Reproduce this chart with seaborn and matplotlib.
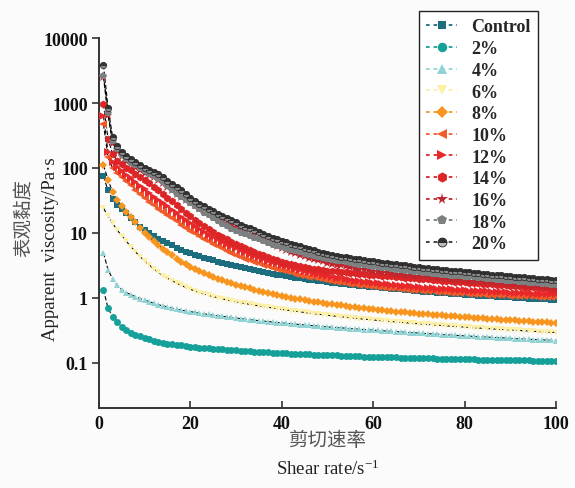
import numpy as np
import pandas as pd
import matplotlib
matplotlib.use("Agg")
import matplotlib.pyplot as plt
import seaborn as sns
from matplotlib.lines import Line2D
from matplotlib.ticker import FixedLocator, NullLocator

# ---------------- data ----------------
shear_rate = list(range(1, 101))

series_labels = ["Control", "2%", "4%", "6%", "8%", "10%", "12%", "14%", "16%", "18%", "20%"]

control = [74, 45, 33, 27, 23, 20, 17, 14.5, 12.5, 11,
           9.8, 8.9, 8.1, 7.5, 6.9, 6.4, 5.9, 5.4, 5.1, 4.82,
           4.56, 4.33, 4.12, 3.93, 3.75, 3.59, 3.44, 3.3, 3.17, 3.05,
           2.94, 2.84, 2.74, 2.65, 2.57, 2.49, 2.41, 2.34, 2.27, 2.21,
           2.15, 2.09, 2.04, 1.99, 1.94, 1.9, 1.86, 1.82, 1.78, 1.74,
           1.71, 1.68, 1.65, 1.62, 1.59, 1.56, 1.53, 1.51, 1.48, 1.46,
           1.44, 1.42, 1.4, 1.38, 1.36, 1.34, 1.32, 1.3, 1.28, 1.26,
           1.24, 1.23, 1.21, 1.2, 1.18, 1.17, 1.15, 1.14, 1.13, 1.12,
           1.11, 1.09, 1.08, 1.07, 1.06, 1.05, 1.04, 1.03, 1.02, 1.01,
           1.0, 0.99, 0.98, 0.97, 0.96, 0.95, 0.94, 0.94, 0.93, 0.92]

pct2 = [1.33, 0.69, 0.51, 0.42, 0.36, 0.32, 0.29, 0.27, 0.255, 0.24,
        0.228, 0.218, 0.21, 0.203, 0.197, 0.192, 0.188, 0.184, 0.18, 0.177,
        0.174, 0.171, 0.168, 0.166, 0.164, 0.162, 0.16, 0.158, 0.156, 0.154,
        0.152, 0.151, 0.149, 0.148, 0.146, 0.145, 0.144, 0.142, 0.141, 0.14,
        0.139, 0.138, 0.137, 0.136, 0.135, 0.134, 0.133, 0.132, 0.131, 0.13,
        0.129, 0.129, 0.128, 0.127, 0.126, 0.126, 0.125, 0.124, 0.124, 0.123,
        0.122, 0.122, 0.121, 0.121, 0.12, 0.119, 0.119, 0.118, 0.118, 0.117,
        0.117, 0.116, 0.116, 0.115, 0.115, 0.114, 0.114, 0.113, 0.113, 0.113,
        0.112, 0.112, 0.111, 0.111, 0.111, 0.11, 0.11, 0.11, 0.109, 0.109,
        0.109, 0.108, 0.108, 0.108, 0.107, 0.107, 0.107, 0.106, 0.106, 0.106]

pct4 = [4.9, 2.7, 1.95, 1.55, 1.33, 1.2, 1.11, 1.04, 0.97, 0.92,
        0.87, 0.82, 0.78, 0.75, 0.72, 0.69, 0.665, 0.645, 0.625, 0.61,
        0.595, 0.58, 0.565, 0.552, 0.54, 0.528, 0.517, 0.506, 0.496, 0.486,
        0.477, 0.468, 0.459, 0.451, 0.443, 0.436, 0.429, 0.422, 0.415, 0.409,
        0.403, 0.397, 0.391, 0.385, 0.38, 0.375, 0.37, 0.365, 0.36, 0.355,
        0.351, 0.347, 0.343, 0.339, 0.335, 0.331, 0.327, 0.323, 0.32, 0.316,
        0.313, 0.309, 0.306, 0.303, 0.3, 0.297, 0.294, 0.291, 0.288, 0.285,
        0.282, 0.279, 0.276, 0.274, 0.271, 0.268, 0.266, 0.263, 0.261, 0.258,
        0.256, 0.254, 0.251, 0.249, 0.247, 0.245, 0.243, 0.241, 0.239, 0.237,
        0.235, 0.233, 0.231, 0.229, 0.227, 0.225, 0.224, 0.222, 0.22, 0.219]

pct6 = [24, 18, 14, 11, 9, 7.4, 6.1, 5.1, 4.3, 3.7,
        3.2, 2.8, 2.45, 2.2, 2.0, 1.83, 1.68, 1.55, 1.44, 1.35,
        1.27, 1.2, 1.14, 1.09, 1.04, 1.0, 0.96, 0.925, 0.895, 0.865,
        0.84, 0.815, 0.79, 0.77, 0.75, 0.73, 0.712, 0.695, 0.678, 0.662,
        0.647, 0.633, 0.619, 0.606, 0.593, 0.581, 0.569, 0.558, 0.547, 0.537,
        0.527, 0.518, 0.509, 0.5, 0.492, 0.484, 0.476, 0.469, 0.462, 0.455,
        0.448, 0.442, 0.436, 0.43, 0.424, 0.418, 0.413, 0.407, 0.402, 0.397,
        0.392, 0.387, 0.383, 0.378, 0.374, 0.369, 0.365, 0.361, 0.357, 0.353,
        0.349, 0.345, 0.342, 0.338, 0.335, 0.331, 0.328, 0.325, 0.322, 0.319,
        0.316, 0.313, 0.31, 0.307, 0.304, 0.301, 0.299, 0.296, 0.294, 0.291]

pct8 = [110, 66, 42, 32, 26, 21, 17.5, 14.5, 12, 10,
        8.6, 7.4, 6.5, 5.7, 5.0, 4.5, 4.0, 3.6, 3.3, 3.0,
        2.78, 2.58, 2.4, 2.24, 2.1, 1.97, 1.86, 1.76, 1.67, 1.59,
        1.52, 1.45, 1.39, 1.33, 1.28, 1.23, 1.18, 1.14, 1.1, 1.06,
        1.03, 1.0, 0.97, 0.94, 0.915, 0.89, 0.87, 0.85, 0.83, 0.81,
        0.79, 0.775, 0.76, 0.745, 0.73, 0.715, 0.7, 0.688, 0.676, 0.665,
        0.654, 0.643, 0.633, 0.623, 0.613, 0.604, 0.595, 0.586, 0.578, 0.57,
        0.562, 0.555, 0.548, 0.541, 0.534, 0.527, 0.521, 0.515, 0.509, 0.503,
        0.497, 0.492, 0.486, 0.481, 0.476, 0.471, 0.466, 0.461, 0.456, 0.452,
        0.447, 0.443, 0.438, 0.434, 0.43, 0.426, 0.422, 0.418, 0.414, 0.41]

pct10 = [470, 145, 100, 85, 72, 62, 54, 46, 39, 34,
         30, 26.5, 23.5, 21, 19, 17, 15, 13.3, 12, 10.8,
         9.8, 8.9, 8.1, 7.4, 6.8, 6.25, 5.75, 5.3, 4.9, 4.55,
         4.25, 4.0, 3.77, 3.56, 3.37, 3.2, 3.05, 2.91, 2.78, 2.66,
         2.55, 2.45, 2.36, 2.27, 2.19, 2.12, 2.05, 1.99, 1.93, 1.87,
         1.82, 1.77, 1.73, 1.69, 1.65, 1.61, 1.58, 1.55, 1.52, 1.49,
         1.47, 1.45, 1.43, 1.41, 1.39, 1.37, 1.35, 1.33, 1.31, 1.3,
         1.28, 1.27, 1.25, 1.24, 1.23, 1.21, 1.2, 1.19, 1.18, 1.17,
         1.16, 1.15, 1.14, 1.13, 1.12, 1.11, 1.1, 1.1, 1.09, 1.08,
         1.07, 1.07, 1.06, 1.05, 1.05, 1.04, 1.03, 1.03, 1.02, 1.02]

pct12 = [630, 175, 125, 105, 90, 79, 70, 61, 53, 47,
         41, 36, 32, 28.5, 25.5, 22.5, 20, 17.8, 15.9, 14.2,
         12.8, 11.5, 10.4, 9.4, 8.6, 7.9, 7.25, 6.7, 6.2, 5.75,
         5.35, 5.0, 4.7, 4.42, 4.17, 3.94, 3.73, 3.54, 3.37, 3.21,
         3.06, 2.93, 2.8, 2.69, 2.58, 2.48, 2.39, 2.31, 2.23, 2.16,
         2.1, 2.04, 1.98, 1.93, 1.88, 1.84, 1.8, 1.76, 1.72, 1.69,
         1.66, 1.63, 1.6, 1.58, 1.55, 1.53, 1.51, 1.49, 1.47, 1.45,
         1.43, 1.41, 1.4, 1.38, 1.37, 1.35, 1.34, 1.33, 1.31, 1.3,
         1.29, 1.28, 1.27, 1.26, 1.25, 1.24, 1.23, 1.22, 1.21, 1.2,
         1.19, 1.19, 1.18, 1.17, 1.16, 1.16, 1.15, 1.14, 1.14, 1.13]

pct14 = [960, 280, 165, 130, 113, 101, 92, 82, 73, 65,
         58, 51, 45, 39.5, 35, 30.5, 26.5, 23, 20.5, 18,
         16, 14.3, 12.8, 11.5, 10.4, 9.4, 8.6, 7.9, 7.3, 6.8,
         6.3, 5.9, 5.5, 5.15, 4.8, 4.5, 4.25, 4.0, 3.8, 3.6,
         3.45, 3.3, 3.17, 3.05, 2.95, 2.87, 2.8, 2.73, 2.67, 2.62,
         2.58, 2.54, 2.5, 2.46, 2.42, 2.38, 2.35, 2.31, 2.28, 2.25,
         2.22, 2.19, 2.16, 2.13, 2.1, 2.07, 2.04, 2.02, 1.99, 1.97,
         1.94, 1.92, 1.89, 1.87, 1.84, 1.82, 1.8, 1.77, 1.75, 1.73,
         1.71, 1.69, 1.66, 1.64, 1.62, 1.6, 1.58, 1.57, 1.55, 1.53,
         1.51, 1.49, 1.48, 1.46, 1.44, 1.42, 1.41, 1.39, 1.38, 1.36]

pct16 = [2500, 650, 240, 185, 150, 130, 116, 104, 94, 85,
         78, 72, 65, 58, 51, 45, 40, 36, 32.5, 29.5,
         26.5, 24, 22, 20, 18.3, 16.8, 15.4, 14.2, 13.1, 12.1,
         11.2, 10.4, 9.7, 9.1, 8.5, 8.0, 7.4, 6.85, 6.35, 5.9,
         5.5, 5.15, 4.85, 4.58, 4.34, 4.13, 3.94, 3.77, 3.62, 3.48,
         3.36, 3.25, 3.15, 3.06, 2.97, 2.89, 2.82, 2.75, 2.68, 2.62,
         2.56, 2.51, 2.46, 2.41, 2.36, 2.32, 2.28, 2.24, 2.2, 2.16,
         2.13, 2.09, 2.06, 2.03, 2.0, 1.97, 1.94, 1.91, 1.88, 1.86,
         1.83, 1.8, 1.78, 1.75, 1.73, 1.7, 1.68, 1.66, 1.64, 1.62,
         1.6, 1.58, 1.56, 1.54, 1.52, 1.5, 1.49, 1.47, 1.46, 1.44]

pct18 = [2650, 700, 260, 195, 158, 135, 121, 109, 98, 89,
         82, 75, 68, 60, 52, 46, 40, 36, 32, 28.5,
         25.5, 23, 20.5, 18.5, 16.8, 15.2, 13.8, 12.6, 11.6, 10.8,
         10.1, 9.5, 8.9, 8.4, 7.9, 7.4, 7.0, 6.6, 6.3, 6.0,
         5.7, 5.45, 5.2, 4.98, 4.78, 4.6, 4.43, 4.27, 4.12, 3.98,
         3.85, 3.73, 3.62, 3.52, 3.42, 3.33, 3.25, 3.17, 3.09, 3.02,
         2.95, 2.89, 2.83, 2.77, 2.71, 2.66, 2.61, 2.56, 2.51, 2.47,
         2.43, 2.39, 2.35, 2.31, 2.27, 2.23, 2.2, 2.17, 2.14, 2.11,
         2.08, 2.05, 2.02, 1.99, 1.96, 1.93, 1.9, 1.87, 1.84, 1.81,
         1.78, 1.76, 1.73, 1.71, 1.68, 1.66, 1.63, 1.61, 1.58, 1.56]

pct20 = [3850, 850, 300, 215, 175, 150, 135, 122, 110, 100,
         94, 88, 80, 72, 64, 57, 50, 45, 40, 35,
         31, 28, 25.5, 23.5, 21.5, 19.7, 18.2, 16.8, 15.6, 14.5,
         13.4, 12.5, 11.7, 10.9, 10.2, 9.5, 8.9, 8.4, 7.9, 7.5,
         7.1, 6.8, 6.5, 6.2, 5.9, 5.6, 5.4, 5.15, 4.95, 4.75,
         4.6, 4.45, 4.3, 4.2, 4.1, 4.0, 3.9, 3.8, 3.72, 3.64,
         3.56, 3.48, 3.41, 3.34, 3.27, 3.2, 3.14, 3.08, 3.02, 2.96,
         2.91, 2.86, 2.81, 2.76, 2.71, 2.66, 2.62, 2.58, 2.54, 2.5,
         2.46, 2.42, 2.38, 2.34, 2.3, 2.27, 2.24, 2.21, 2.18, 2.15,
         2.12, 2.09, 2.06, 2.03, 2.0, 1.97, 1.94, 1.91, 1.88, 1.85]

series_values = [control, pct2, pct4, pct6, pct8, pct10, pct12, pct14, pct16, pct18, pct20]

y_ticks = [0.1, 1, 10, 100, 1000, 10000]
y_tick_labels = ["0.1", "1", "10", "100", "1000", "10000"]
x_ticks = [0, 20, 40, 60, 80, 100]

# ---------------- styles ----------------
colors = ["#1c6d7d", "#16a09a", "#8fd3d5", "#fdf0a4", "#f7951f", "#f15a29",
          "#e8282a", "#dc2527", "#c0262d", "#7d8081", "#333333"]
markers = ["s", "o", "^", "v", "D", "<", ">", "h", "*", "p", "o"]
msizes = [4.6, 5.0, 5.0, 5.0, 4.4, 5.2, 5.2, 5.6, 6.6, 5.4, 4.6]

df = pd.DataFrame({
    "shear": np.tile(shear_rate, len(series_labels)),
    "visc": np.concatenate([np.asarray(v, float) for v in series_values]),
    "group": np.repeat(series_labels, len(shear_rate)),
})

sns.set_style("ticks")
plt.rcParams["font.family"] = ["Liberation Serif", "Noto Sans CJK SC", "DejaVu Sans"]
plt.rcParams["mathtext.fontset"] = "custom"
plt.rcParams["mathtext.rm"] = "Liberation Serif"
plt.rcParams["mathtext.it"] = "Liberation Serif:italic"

fig = plt.figure(figsize=(5.75, 4.89), dpi=100, facecolor="#fbfbfb")
ax = fig.add_axes([0.172, 0.1636, 0.795, 0.7564])
ax.set_facecolor("#fbfbfb")

for lab in series_labels:
    sub = df[df["group"] == lab]
    sns.lineplot(data=sub, x="shear", y="visc", ax=ax, color="black",
                 linewidth=0.8, linestyle=(0, (4, 2)), legend=False, zorder=2)
for lab, col, mk, ms in zip(series_labels, colors, markers, msizes):
    sub = df[df["group"] == lab]
    if lab == "20%":
        extra = dict(fillstyle="top", markerfacecoloralt="#8a8a8a",
                     markeredgecolor="#222222", markeredgewidth=0.5)
    else:
        extra = dict(markeredgewidth=0)
    sns.lineplot(data=sub, x="shear", y="visc", ax=ax, color=col,
                 linewidth=0, marker=mk, markersize=ms, legend=False,
                 markerfacecolor=col, zorder=3, **extra)

ax.set_yscale("log")
ax.set_xlim(0, 100)
ax.set_ylim(0.02, 10000)
ax.yaxis.set_major_locator(FixedLocator(y_ticks))
ax.yaxis.set_minor_locator(NullLocator())
ax.set_yticklabels(y_tick_labels)
ax.set_xticks(x_ticks)
ax.set_xticklabels([str(t) for t in x_ticks])
ax.set_xlabel("")
ax.set_ylabel("")

for s in ["top", "right"]:
    ax.spines[s].set_visible(False)
for s in ["left", "bottom"]:
    ax.spines[s].set_color("#333333")
    ax.spines[s].set_linewidth(1.4)
ax.tick_params(axis="y", direction="out", length=5, width=1.2, color="#333333", pad=3)
ax.tick_params(axis="x", direction="in", length=5, width=1.2, color="#333333", pad=5)
for t in ax.get_xticklabels() + ax.get_yticklabels():
    t.set_fontfamily("Liberation Serif")
    t.set_fontweight("bold")
    t.set_fontsize(13)
    t.set_color("#111111")

# axis titles
fig.text(0.040, 0.555, "表观黏度", rotation=90, ha="center", va="center",
         fontsize=14, color="#555555", family=["Noto Sans CJK SC", "DejaVu Sans"])
fig.text(0.088, 0.49, "Apparent  viscosity/Pa·s", rotation=90, ha="center", va="center",
         fontsize=13.5, color="#222222", family=["Liberation Serif", "DejaVu Sans"])
fig.text(0.569, 0.100, "剪切速率", ha="center", va="center",
         fontsize=14, color="#555555", family=["Noto Sans CJK SC", "DejaVu Sans"])
fig.text(0.569, 0.040, "Shear rate/s$^{-1}$", ha="center", va="center",
         fontsize=13.5, color="#222222", family=["Liberation Serif", "DejaVu Sans"])

# legend
handles = []
for lab, col, mk, ms in zip(series_labels, colors, markers, msizes):
    kw = dict(markeredgewidth=0)
    if lab == "20%":
        kw = dict(fillstyle="top", markerfacecoloralt="#bdbdbd",
                  markeredgecolor="#222222", markeredgewidth=0.6)
    handles.append(Line2D([0], [0], color=col, linestyle=(0, (2, 2.2)), linewidth=1.3,
                          marker=mk, markersize=ms + 1.8, markerfacecolor=col, **kw))
leg = fig.legend(handles=handles, labels=series_labels, loc="upper left",
                 bbox_to_anchor=(0.729, 0.975), frameon=True, fancybox=False,
                 edgecolor="#222222", facecolor="white", framealpha=1,
                 handlelength=1.7, handletextpad=0.8, labelspacing=0.26,
                 borderpad=0.4, borderaxespad=0.0,
                 prop={"family": "Liberation Serif", "weight": "bold", "size": 13})
leg.get_frame().set_linewidth(1.0)

fig.savefig("out.png", dpi=100, facecolor=fig.get_facecolor())
